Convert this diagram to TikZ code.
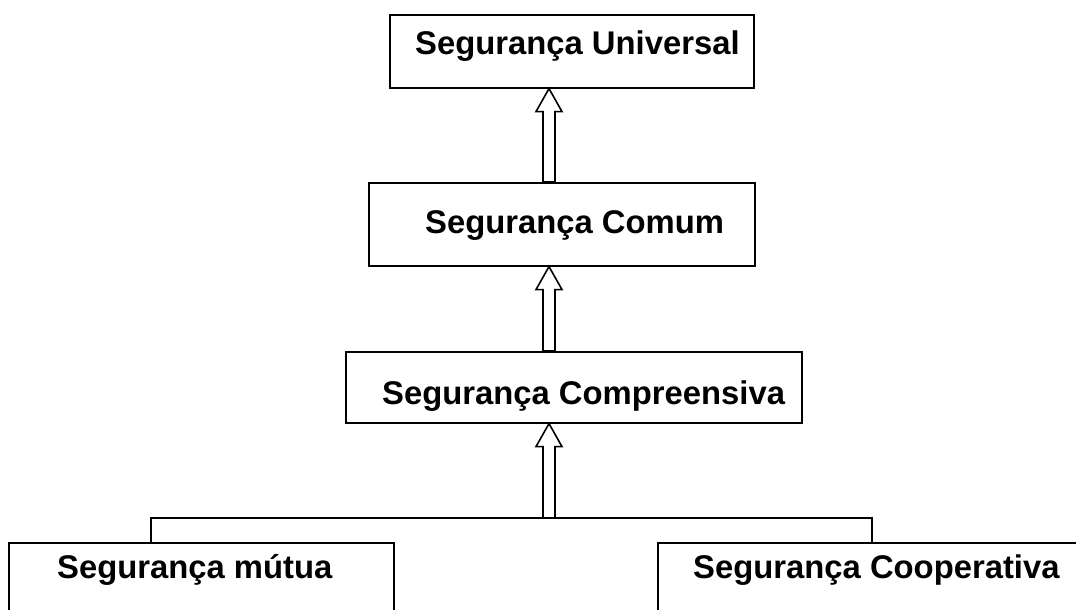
\documentclass[tikz,border=0pt]{standalone}
\usepackage{fontspec}
\setmainfont{Liberation Sans}
\usetikzlibrary{calc}
\tikzset{
  box/.style={draw, line width=1.6pt, rectangle, inner sep=0pt, anchor=north west, fill=none},
  lbl/.style={anchor=base west, inner sep=0pt, font=\fontsize{32.8}{38}\selectfont\bfseries},
  barline/.style={draw, line width=1.4pt},
  blockarr/.style={draw, line width=1.6pt, fill=white, line join=miter}
}
\newcommand{\blockarrow}[2]{%
  \draw[blockarr] ($(#1)+(-6,0)$) -- ($(#2)+(-6,23)$) -- ($(#2)+(-13,23)$) -- (#2)
    -- ($(#2)+(13,23)$) -- ($(#2)+(6,23)$) -- ($(#1)+(6,0)$) -- cycle;}
\begin{document}
\begin{tikzpicture}[x=1pt,y=-1pt]
\useasboundingbox (0,0) rectangle (1076,610);
\clip (0,0) rectangle (1076,610);
% boxes
\node[box, minimum width=364pt, minimum height=73pt] (u) at (389,14) {};
\node[box, minimum width=386pt, minimum height=83pt] (c) at (368,182) {};
\node[box, minimum width=456pt, minimum height=71pt] (p) at (345,351) {};
\node[box, minimum width=385pt, minimum height=120pt] (m) at (8,542) {};
\node[box, minimum width=440pt, minimum height=120pt] (k) at (657,542) {};
% labels
\node[lbl] (ut) at (415,55) {Segurança Universal};
\node[lbl] (ct) at (425,233) {Segurança Comum};
\node[lbl] (pt) at (382,404) {Segurança Compreensiva};
\node[lbl] (mt) at (57,578) {Segurança mútua};
\node[lbl] (kt) at (693,578) {Segurança Cooperativa};
% connector points
\coordinate (ax) at (549,0);
\coordinate (bar) at (549,518);
\coordinate (mj) at (151,542);
\coordinate (kj) at (872,542);
% bracket
\draw[barline] (mj) |- (bar) -| (kj);
% block arrows
\blockarrow{c.north -| ax}{u.south -| ax}
\blockarrow{p.north -| ax}{c.south -| ax}
\blockarrow{bar}{p.south -| ax}
\end{tikzpicture}
\end{document}
